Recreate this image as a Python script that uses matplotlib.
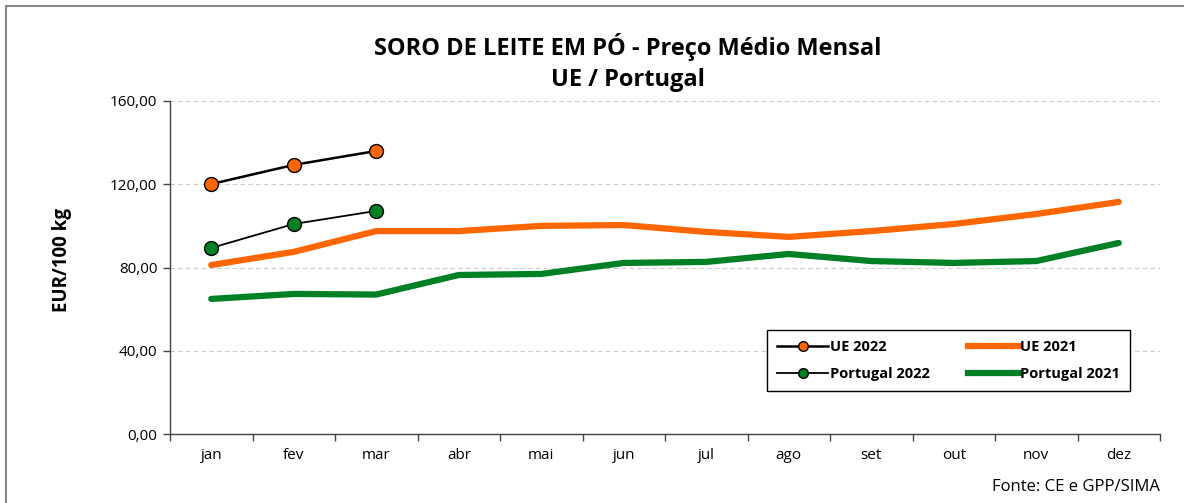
import matplotlib.pyplot as plt
from matplotlib.lines import Line2D
from matplotlib.patches import Rectangle
from matplotlib.ticker import FixedLocator, NullFormatter

plt.rcParams['font.family'] = ['Open Sans', 'DejaVu Sans']

# ── Data ─────────────────────────────────────────────────────────────
months = ["jan", "fev", "mar", "abr", "mai", "jun",
          "jul", "ago", "set", "out", "nov", "dez"]
ue_2022 = [120.1, 129.3, 136.0]
pt_2022 = [89.4, 100.9, 107.2]
ue_2021 = [81.2, 87.5, 97.5, 97.5, 100.0, 100.4,
           97.1, 94.7, 97.5, 100.9, 105.7, 111.5]
pt_2021 = [64.9, 67.3, 67.0, 76.4, 76.9, 82.2,
           82.7, 86.5, 83.1, 82.2, 83.1, 91.8]
y_ticks = [0, 40, 80, 120, 160]

ORANGE = "#ff6600"
GREEN = "#008024"

fig = plt.figure(figsize=(11.84, 5.03), dpi=100)
ax = fig.add_axes([170/1184, 1 - 434/503, 990/1184, 333/503])

x = list(range(len(months)))
ax.plot(x, ue_2021, color=ORANGE, lw=4.5, solid_capstyle="round", zorder=3)
ax.plot(x, pt_2021, color=GREEN, lw=4.5, solid_capstyle="round", zorder=3)
ax.plot(x[:len(ue_2022)], ue_2022, color="black", lw=1.8, marker="o", ms=10,
        markerfacecolor=ORANGE, markeredgecolor="black", markeredgewidth=1, zorder=4)
ax.plot(x[:len(pt_2022)], pt_2022, color="black", lw=1.3, marker="o", ms=10,
        markerfacecolor=GREEN, markeredgecolor="black", markeredgewidth=1, zorder=4)

ax.set_xlim(-0.5, len(months) - 0.5)
ax.set_ylim(0, 160)
ax.set_yticks(y_ticks)
ax.set_yticklabels([f"{v:.2f}".replace(".", ",") for v in y_ticks], fontsize=11)
ax.set_xticks(x)
ax.set_xticklabels(months, fontsize=11)
ax.tick_params(axis="x", which="major", length=0, pad=10)
ax.xaxis.set_minor_locator(FixedLocator([i - 0.5 for i in range(len(months) + 1)]))
ax.xaxis.set_minor_formatter(NullFormatter())
ax.tick_params(axis="x", which="minor", length=5, width=1, color="#444444")
ax.tick_params(axis="y", length=5, width=1, color="#444444", pad=4)

ax.grid(axis="y", ls=(0, (4, 3)), lw=0.8, color="#cccccc", zorder=0)
for side in ["top", "right"]:
    ax.spines[side].set_visible(False)
for side in ["left", "bottom"]:
    ax.spines[side].set_color("#444444")
    ax.spines[side].set_linewidth(1)

fig.text(62/1184, 1 - 260/503, "EUR/100 kg", rotation=90,
         ha="center", va="center", fontsize=13.5, fontweight="bold")

fig.text(628/1184, 1 - 47/503, "SORO DE LEITE EM PÓ - Preço Médio Mensal",
         ha="center", va="center", fontsize=17, fontweight="bold")
fig.text(628/1184, 1 - 80/503, "UE / Portugal",
         ha="center", va="center", fontsize=17, fontweight="bold")
fig.text(1160/1184, 1 - 487/503, "Fonte: CE e GPP/SIMA",
         ha="right", va="center", fontsize=12)

# Legend
handles = [
    Line2D([0], [0], color="black", lw=1.8, marker="o", ms=7,
           markerfacecolor=ORANGE, markeredgecolor="black", label="UE 2022"),
    Line2D([0], [0], color="black", lw=1.3, marker="o", ms=7,
           markerfacecolor=GREEN, markeredgecolor="black", label="Portugal 2022"),
    Line2D([0], [0], color=ORANGE, lw=4.5, label="UE 2021"),
    Line2D([0], [0], color=GREEN, lw=4.5, label="Portugal 2021"),
]
leg = fig.legend(handles=handles, ncol=2, loc="upper left",
                 bbox_to_anchor=(767/1184, 1 - 330/503),
                 prop={"weight": "bold", "size": 10.5}, frameon=True,
                 fancybox=False, edgecolor="black", framealpha=1,
                 handlelength=3.5, handletextpad=0.1, columnspacing=2.6,
                 labelspacing=0.85, borderpad=0.7, borderaxespad=0)
leg.get_frame().set_linewidth(1)

# Outer border
fig.patches.append(Rectangle((6/1184, -0.01), 1.02, 1 - 6/503 + 0.01,
                             transform=fig.transFigure, fill=False,
                             edgecolor="#888888", lw=1.5))

fig.savefig("out.png", dpi=100)
